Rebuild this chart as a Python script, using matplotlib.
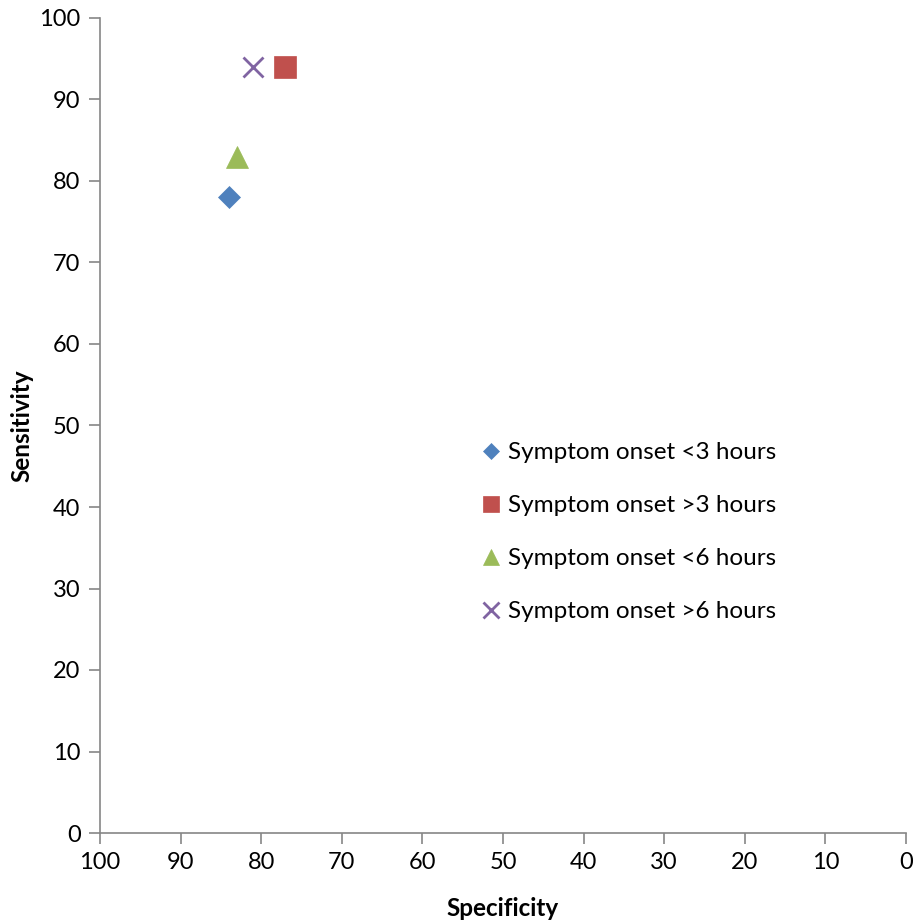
import matplotlib
matplotlib.use("Agg")
import matplotlib.pyplot as plt

plt.rcParams['font.family'] = ['Lato', 'DejaVu Sans']

# Diagnostic accuracy by time from symptom onset
labels = ["Symptom onset <3 hours", "Symptom onset >3 hours",
          "Symptom onset <6 hours", "Symptom onset >6 hours"]
specificity = [84, 77, 83, 81]
sensitivity = [78, 94, 83, 94]

markers = ['D', 's', '^', 'x']
colors = ['#4F81BD', '#C0504D', '#9BBB59', '#8064A2']
msizes = [11.5, 16, 16, 15]

fig = plt.figure(figsize=(9.15, 9.21), dpi=100)
ax = fig.add_axes([100/915, 88/921, 806/915, 815/921])

for lab, xs, ys, m, c, s in zip(labels, specificity, sensitivity, markers, colors, msizes):
    ax.plot([xs], [ys], linestyle='none', marker=m, color=c, markersize=s,
            markeredgewidth=2 if m == 'x' else 0.5, label=lab)

ax.set_xlim(100, 0)
ax.set_ylim(0, 100)
ax.set_xticks(range(100, -1, -10))
ax.set_yticks(range(0, 101, 10))

axis_color = '#868686'
for side in ['top', 'right']:
    ax.spines[side].set_visible(False)
for side in ['left', 'bottom']:
    ax.spines[side].set_color(axis_color)
    ax.spines[side].set_linewidth(1.2)
ax.tick_params(axis='both', direction='out', length=8, width=1.2, color=axis_color,
               labelsize=17, labelcolor='#000000', pad=6)

ax.set_xlabel("Specificity", fontsize=17.5, fontweight='bold', va='center')
ax.set_ylabel("Sensitivity", fontsize=17.5, fontweight='bold', va='center')
ax.xaxis.set_label_coords(0.5, (833 - 908) / 815)
ax.yaxis.set_label_coords((22 - 100) / 806, 0.5)

leg = ax.legend(loc='upper left', bbox_to_anchor=(468/915, 1 - 430/921),
                bbox_transform=fig.transFigure, frameon=False, fontsize=17.5,
                handlelength=0.9, handletextpad=0.25, labelspacing=1.32,
                markerscale=0.75, borderpad=0)

fig.savefig("out.png", dpi=100)
